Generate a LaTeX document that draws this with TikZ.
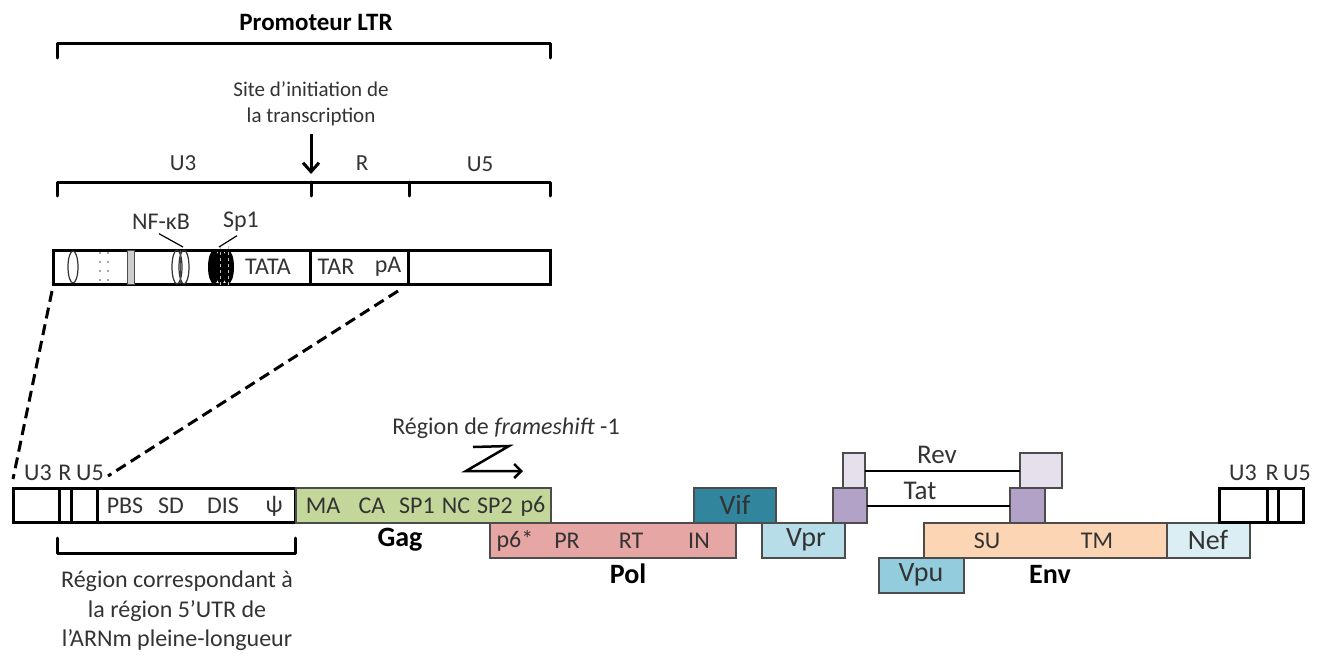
\documentclass[tikz,border=0pt]{standalone}
\usepackage{fontspec}
\setmainfont{Carlito}
\usetikzlibrary{arrows.meta,shapes.geometric}
\definecolor{gagc}{HTML}{C4D79B}
\definecolor{polc}{HTML}{E6A6A4}
\definecolor{vifc}{HTML}{31859C}
\definecolor{vprc}{HTML}{B7DEE8}
\definecolor{vpuc}{HTML}{93CDDD}
\definecolor{nefc}{HTML}{DBEEF4}
\definecolor{envc}{HTML}{FCD5B5}
\definecolor{revc}{HTML}{E6E0EC}
\definecolor{tatc}{HTML}{B3A2C7}
\definecolor{txt}{HTML}{333333}
\begin{document}
\begin{tikzpicture}[x=1pt,y=-1pt,
 every node/.style={inner sep=0pt, outer sep=0pt, text=txt, font=\fontsize{24}{29}\selectfont},
 boldlbl/.style={font=\fontsize{28}{32}\selectfont\bfseries, text=black},
 biglbl/.style={font=\fontsize{28}{32}\selectfont},
 midlbl/.style={font=\fontsize{27}{31}\selectfont},
 wbox/.style={draw=black, line width=3pt, fill=white, anchor=north west, minimum height=34pt},
 cbox/.style={draw=black!70, line width=1.5pt, anchor=north west, minimum height=35pt},
 brk/.style={line width=3pt, line cap=round, line join=round},
 dsh/.style={line width=3pt, dash pattern=on 11pt off 6pt},
 divl/.style={line width=3pt},
]
\useasboundingbox (0,0) rectangle (1327,656);

% ---------- top: LTR promoter ----------
\node[font=\fontsize{25}{30}\selectfont\bfseries, text=black] (title) at (316,22) {Promoteur LTR};
\draw[brk] (57,58) -- (57,43) -- (550,43) -- (550,58);

\node[align=center, font=\fontsize{21}{26}\selectfont] (site) at (311,104) {Site d’initiation de\\la transcription};
\coordinate (tss) at (311,174);
\draw[line width=3pt, -{Straight Barb[length=9pt,width=16pt,line width=3pt]}] ([yshift=-8pt]site.south) -- (tss);

\node[font=\fontsize{23}{28}\selectfont] (lu3) at (183,163) {U3};
\node[font=\fontsize{23}{28}\selectfont] (lr) at (362,163) {R};
\node[font=\fontsize{23}{28}\selectfont] (lu5) at (480,164) {U5};
\draw[brk] (57,196) -- (57,182) -- (550,182) -- (550,196);
\draw[brk] (311,182) -- (311,196);
\draw[brk] (409,182) -- (409,196);

% LTR box
\node[wbox, minimum width=497pt] (ltr) at (53,250) {};
\draw[divl] (310,250) -- (310,284);
\draw[divl] (408,250) -- (408,284);
% motifs
\draw[gray!40!black, line width=1.2pt] (73,267) ellipse (5 and 16);
\draw[gray!70, line width=1.6pt, dash pattern=on 2pt off 7pt] (100,252) -- (100,284);
\draw[gray!70, line width=1.6pt, dash pattern=on 2pt off 7pt] (108,252) -- (108,284);
\draw[fill=gray!40, draw=gray!60!black, line width=0.8pt] (127,250) rectangle (134,284);
\draw[gray!40!black, line width=1.2pt] (177,267) ellipse (5 and 17);
\draw[gray!40!black, line width=1.2pt] (184,267) ellipse (5 and 17);
\draw[gray!60!black, line width=1pt] (180.5,250) -- (180.5,284);
\fill[black] (214,267) ellipse (6 and 17);
\fill[black] (221,267) ellipse (6 and 17);
\fill[black] (228,267) ellipse (6 and 17);
\draw[gray!50, line width=1pt, dash pattern=on 3pt off 3pt] (220,246) -- (220,288);
\draw[gray!50, line width=1pt, dash pattern=on 3pt off 3pt] (228,246) -- (228,288);
\node (tata) at (268,267) {TATA};
\node (tar) at (336,267) {TAR};
\node (pa) at (388,267) {pA};
\node (nfkb) at (161,222) {NF-κB};
\node (sp1) at (241,222) {Sp1};
\coordinate (nfkbpt) at (183,247);
\coordinate (sp1pt) at (219,247);
\draw[line width=1.2pt] ([xshift=-2pt,yshift=-4pt]nfkb.south) -- (nfkbpt);
\draw[line width=1.2pt] ([xshift=-4pt,yshift=-4pt]sp1.south) -- (sp1pt);

% ---------- genome ----------
\node[wbox, minimum width=282pt] (ltr5) at (13,488) {};
\draw[divl] (59,488) -- (59,522);
\draw[divl] (71,488) -- (71,522);
\draw[divl] (97,488) -- (97,522);
\node (a3) at (38,473) {U3};
\node (ar) at (65,473) {R};
\node (a5) at (90,473) {U5};
\node (pbs) at (125,506) {PBS};
\node (sd) at (171,506) {SD};
\node (dis) at (223,506) {DIS};
\node (psi) at (274,506) {ψ};

\coordinate (dl) at (13,479);
\coordinate (dr) at (108,476);
\draw[dsh] ([xshift=-1pt,yshift=-7pt]ltr.south west) -- (dl);
\draw[dsh] ([xshift=-152pt,yshift=-7pt]ltr.south east) -- (dr);

\node[cbox, fill=gagc, minimum width=255pt] (gag) at (296,488) {};
\node (ma) at (323,506) {MA};
\node (ca) at (372,506) {CA};
\node (sp1g) at (417,506) {SP1};
\node (nc) at (456,506) {NC};
\node (sp2) at (495,506) {SP2};
\node (p6) at (533,506) {p6};
\node[boldlbl] (gagl) at (400,540) {Gag};

\node (fs) at (506,428) {Région de \textit{frameshift} -1};
\coordinate (z1) at (473,447);
\coordinate (z2) at (509,446);
\coordinate (z3) at (466,471);
\coordinate (z4) at (523,471);
\draw[line width=2.5pt, line join=miter, -{Straight Barb[length=7pt,width=14pt,line width=2.5pt]}] (z1) -- (z2) -- (z3) -- (z4);

\node[cbox, fill=polc, minimum width=246pt] (pol) at (490,523) {};
\node (p6s) at (515,541) {p6*};
\node (pr) at (567,541) {PR};
\node (rt) at (631,541) {RT};
\node (in) at (699,541) {IN};
\node[boldlbl] (poll) at (628,574) {Pol};

\node[cbox, fill=vifc, minimum width=82pt] (vif) at (694,488) {};
\node[biglbl] (vifl) at (735,505) {Vif};
\node[cbox, fill=vprc, minimum width=83pt] (vpr) at (762,523) {};
\node[biglbl] (vprl) at (806,540) {Vpr};

\node[cbox, fill=tatc, minimum width=34pt] (tat1) at (833,488) {};
\node[cbox, fill=revc, minimum width=22pt] (rev1) at (843,453) {};
\node[cbox, fill=revc, minimum width=42pt] (rev2) at (1020,453) {};
\node[cbox, fill=tatc, minimum width=35pt] (tat2) at (1010,488) {};
\draw[line width=2pt] (rev1.east) -- (rev2.west);
\draw[line width=2pt] (tat1.east) -- (tat2.west);
\node[midlbl] (revl) at (937,455) {Rev};
\node[midlbl] (tatl) at (920,491) {Tat};

\node[cbox, fill=envc, minimum width=243pt] (env) at (924,523) {};
\node (su) at (987,541) {SU};
\node (tm) at (1097,541) {TM};
\node[boldlbl] (envl) at (1050,574) {Env};
\node[cbox, fill=nefc, minimum width=83pt] (nef) at (1167,523) {};
\node[biglbl] (nefl) at (1208,540) {Nef};
\node[cbox, fill=vpuc, minimum width=85pt] (vpu) at (879,558) {};
\node[biglbl] (vpul) at (921,575) {Vpu};

\node[wbox, minimum width=84pt] (ltr3) at (1219,488) {};
\draw[divl] (1267,488) -- (1267,522);
\draw[divl] (1278,488) -- (1278,522);
\node (b3) at (1243,473) {U3};
\node (br) at (1272,473) {R};
\node (b5) at (1297,473) {U5};

% ---------- 5'UTR bracket ----------
\draw[brk] (57,538) -- (57,553) -- (295,553) -- (295,538);
\node[align=center, font=\fontsize{24}{29.5}\selectfont] (utr) at (177,611) {Région correspondant à\\la région 5’UTR de\\l’ARNm pleine-longueur};
\end{tikzpicture}
\end{document}
